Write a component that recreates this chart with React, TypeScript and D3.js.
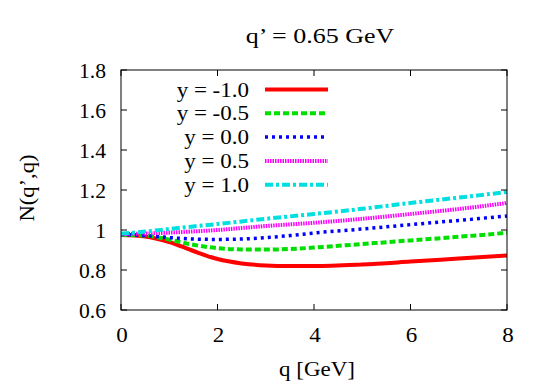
import React from 'react';
import * as d3 from 'd3';

const qValues = [0, 0.5, 1, 1.5, 2, 2.5, 3, 3.5, 4, 5, 6, 7, 8];
const yMinus10 = [0.975, 0.968, 0.94, 0.895, 0.855, 0.833, 0.823, 0.82, 0.82, 0.828, 0.842, 0.857, 0.872];
const yMinus05 = [0.976, 0.972, 0.952, 0.926, 0.909, 0.903, 0.902, 0.905, 0.912, 0.93, 0.948, 0.966, 0.986];
const yZero = [0.978, 0.972, 0.962, 0.955, 0.953, 0.955, 0.962, 0.972, 0.985, 1.005, 1.027, 1.048, 1.07];
const yPlus05 = [0.98, 0.982, 0.987, 0.993, 1.0, 1.01, 1.02, 1.028, 1.036, 1.056, 1.08, 1.105, 1.135];
const yPlus10 = [0.982, 0.992, 1.005, 1.018, 1.03, 1.043, 1.056, 1.068, 1.08, 1.106, 1.135, 1.162, 1.19];

const labels = ['y = -1.0', 'y = -0.5', 'y = 0.0', 'y = 0.5', 'y = 1.0'];
const colors = ['#ff0000', '#00e000', '#0000ff', '#ff00ff', '#00e0e0'];
const dashes = ['none', '6,3', '3,4', '1.5,1', '8,3,3,3'];
const widths = [4, 4, 3.5, 4, 4];
const xTicks = [0, 2, 4, 6, 8];
const yTicks = [0.6, 0.8, 1, 1.2, 1.4, 1.6, 1.8];

const series = [yMinus10, yMinus05, yZero, yPlus05, yPlus10];

// gnuplot's text comes out a bit wider than plain Times, so stretch it
const T = ({ x, y, anchor = 'middle', sx = 1.15, rotate = 0, children }: any) => (
  <text transform={`translate(${x},${y}) rotate(${rotate}) scale(${sx},1)`} textAnchor={anchor} fontSize={20}>
    {children}
  </text>
);

const App = () => {
  const width = 545;
  const height = 382;
  const left = 121, right = 507, top = 70, bottom = 310;

  const x = d3.scaleLinear().domain([0, 8]).range([left, right]);
  const y = d3.scaleLinear().domain([0.6, 1.8]).range([bottom, top]);

  const line = d3.line<number>()
    .x((d, i) => x(qValues[i]))
    .y(d => y(d))
    .curve(d3.curveMonotoneX);

  const font = "'Liberation Serif', 'DejaVu Serif', serif";

  return (
    <svg width={width} height={height} style={{ position: 'absolute', left: 0, top: 0 }} fontFamily={font}>
      <rect width={width} height={height} fill="#fff" />
      <T x={320} y={43} sx={1.3}>q’ = 0.65 GeV</T>

      <defs>
        <clipPath id="plot">
          <rect x={left - 2} y={top} width={right - left + 2} height={bottom - top} />
        </clipPath>
      </defs>

      {series.map((s, i) => (
        <path key={i} d={line(s) || ''} fill="none" stroke={colors[i]} strokeWidth={widths[i]}
          strokeDasharray={dashes[i]} clipPath="url(#plot)" />
      ))}

      {xTicks.map(t => (
        <g key={'x' + t}>
          <line x1={x(t)} x2={x(t)} y1={bottom} y2={bottom - 6} stroke="#000" />
          <line x1={x(t)} x2={x(t)} y1={top} y2={top + 6} stroke="#000" />
          <T x={x(t) + 1} y={342}>{t}</T>
        </g>
      ))}
      {yTicks.map(t => (
        <g key={'y' + t}>
          <line x1={left} x2={left + 6} y1={y(t)} y2={y(t)} stroke="#000" />
          <line x1={right} x2={right - 6} y1={y(t)} y2={y(t)} stroke="#000" />
          <T x={106} y={y(t) + 8} anchor="end" sx={1.08}>{d3.format('')(t)}</T>
        </g>
      ))}

      {labels.map((l, i) => (
        <g key={l}>
          <T x={249} y={96.5 + i * 23.8} anchor="end">{l}</T>
          <line x1={265} x2={328} y1={89.5 + i * 23.8} y2={89.5 + i * 23.8}
            stroke={colors[i]} strokeWidth={widths[i]} strokeDasharray={dashes[i]} />
        </g>
      ))}

      <rect x={left} y={top} width={right - left} height={bottom - top} fill="none" stroke="#000" strokeWidth={1} />

      <T x={317} y={376}>q [GeV]</T>
      <T x={34} y={188} rotate={-90} sx={1.13}>N(q’,q)</T>
    </svg>
  );
};

export default App;
